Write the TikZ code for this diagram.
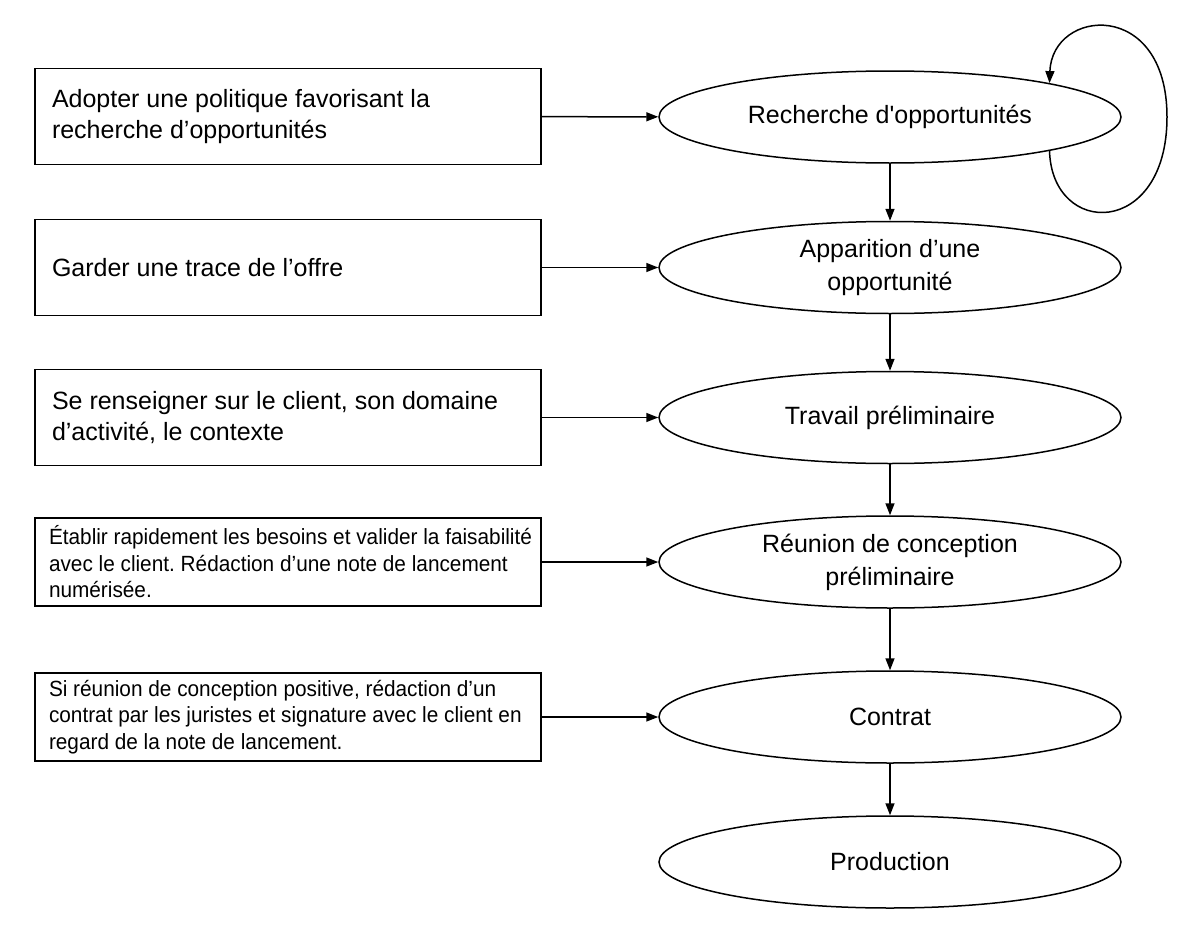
\documentclass[tikz,border=0pt]{standalone}
\usepackage{fontspec}
\setmainfont{Liberation Sans}
\newfontfamily\narrowsans{Liberation Sans}[FakeStretch=0.945]
\usetikzlibrary{shapes.geometric,arrows.meta}
\hfuzz=20pt
\frenchspacing
\begin{document}
\begin{tikzpicture}[x=1pt,y=-1pt,
  bigbox/.style={draw,line width=1.5pt,rectangle,minimum width=506pt,minimum height=96pt,text width=472pt,inner xsep=17pt,align=flush left,font=\fontsize{25}{31}\selectfont},
  smallbox/.style={draw,line width=1.5pt,rectangle,minimum width=506pt,minimum height=88pt,text width=478pt,inner xsep=14pt,align=flush left,font=\narrowsans\fontsize{22}{26.5}\selectfont\frenchspacing},
  state/.style={draw,line width=1.5pt,ellipse,minimum width=462pt,minimum height=92pt,inner sep=0pt,align=center,font=\fontsize{25}{33}\selectfont},
  conn/.style={line width=1.5pt,-{Triangle[length=12pt,width=9pt]}}]
\useasboundingbox (0,0) rectangle (1200,937);
\node[bigbox] (b1) at (288,116.5) {Adopter une politique favorisant la\\recherche d’opportunités};
\node[bigbox] (b2) at (288,267.5) {Garder une trace de l’offre};
\node[bigbox] (b3) at (288,417.5) {Se renseigner sur le client, son domaine\\d’activité, le contexte};
\node[smallbox] (b4) at (288,562) {\makebox[\linewidth][l]{Établir rapidement les besoins et valider la faisabilité}\\avec le client. Rédaction d’une note de lancement\\numérisée.};
\node[smallbox] (b5) at (288,717) {Si réunion de conception positive, rédaction d’un\\contrat par les juristes et signature avec le client en\\regard de la note de lancement.};
\node[state] (e1) at (890,117) {Recherche d\textquotesingle opportunités};
\node[state] (e2) at (890,267.5) {Apparition d’une\\opportunité};
\node[state] (e3) at (890,417.5) {Travail préliminaire};
\node[state] (e4) at (890,562) {Réunion de conception\\préliminaire};
\node[state] (e5) at (890,717) {Contrat};
\node[state] (e6) at (890,862) {Production};
\draw[conn] (b1) -- (e1);
\draw[conn] (b2) -- (e2);
\draw[conn] (b3) -- (e3);
\draw[conn] (b4) -- (e4);
\draw[conn] (b5) -- (e5);
\draw[conn] (e1) -- (e2);
\draw[conn] (e2) -- (e3);
\draw[conn] (e3) -- (e4);
\draw[conn] (e4) -- (e5);
\draw[conn] (e5) -- (e6);
\draw[conn] (e1.-12) .. controls (1052,238) and (1167,238) .. (1167,117) .. controls (1167,-2) and (1052,8) .. (e1.12);
\end{tikzpicture}
\end{document}
